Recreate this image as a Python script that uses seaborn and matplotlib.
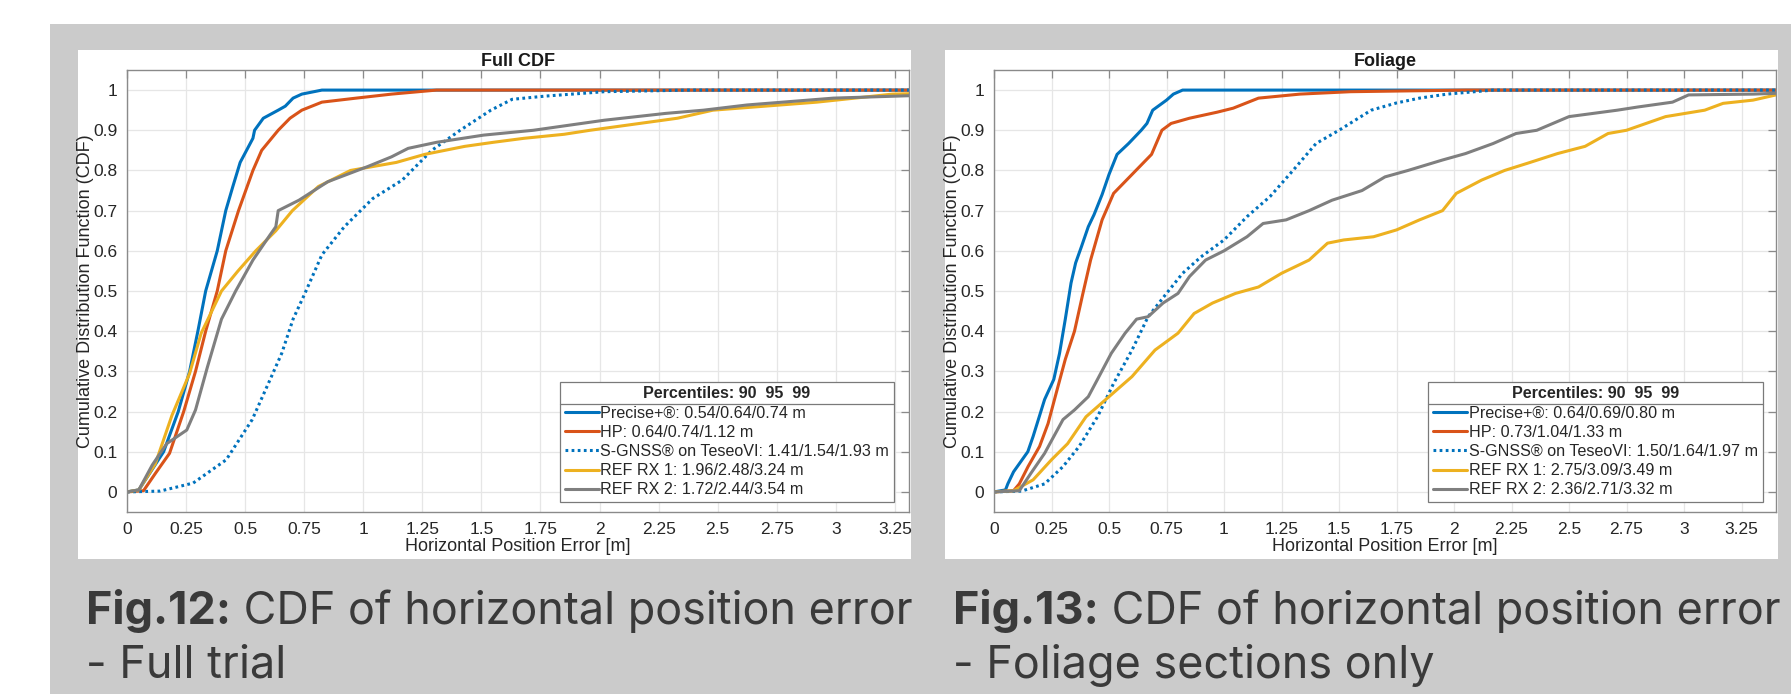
# CDF del error de posición horizontal: ensayo completo vs. tramos con follaje
import numpy as np
import matplotlib
matplotlib.use('Agg')
import matplotlib.pyplot as plt
import seaborn as sns
from matplotlib.patches import Rectangle
from matplotlib.lines import Line2D
from matplotlib.transforms import IdentityTransform

sns.set_style("whitegrid")
plt.rcParams['font.family'] = ['Liberation Sans', 'DejaVu Sans']

# ---------------- datos ----------------
# Panel izquierdo: Full CDF
full_precise_x = [0, 0.05, 0.10, 0.155, 0.217, 0.265, 0.30, 0.333, 0.382, 0.418, 0.448, 0.479, 0.533, 0.54, 0.577, 0.64, 0.67, 0.703, 0.74, 0.825, 3.31]
full_precise_y = [0, 0.005, 0.05, 0.10, 0.20, 0.30, 0.40, 0.50, 0.60, 0.70, 0.76, 0.82, 0.88, 0.90, 0.93, 0.95, 0.96, 0.98, 0.99, 1.0, 1.0]

full_hp_x = [0, 0.07, 0.12, 0.18, 0.24, 0.29, 0.333, 0.382, 0.418, 0.472, 0.533, 0.57, 0.64, 0.69, 0.74, 0.825, 0.97, 1.12, 1.31, 3.31]
full_hp_y = [0, 0.003, 0.046, 0.096, 0.20, 0.30, 0.40, 0.50, 0.60, 0.70, 0.80, 0.85, 0.90, 0.93, 0.95, 0.97, 0.98, 0.99, 1.0, 1.0]

full_sgnss_x = [0, 0.14, 0.28, 0.42, 0.53, 0.606, 0.655, 0.703, 0.75, 0.825, 0.92, 1.04, 1.165, 1.29, 1.41, 1.54, 1.63, 1.77, 2.02, 2.38, 3.31]
full_sgnss_y = [0, 0.002, 0.022, 0.08, 0.18, 0.28, 0.345, 0.43, 0.49, 0.59, 0.66, 0.73, 0.776, 0.85, 0.90, 0.95, 0.977, 0.985, 0.996, 1.0, 1.0]

full_rx1_x = [0, 0.05, 0.12, 0.19, 0.265, 0.314, 0.40, 0.47, 0.545, 0.63, 0.70, 0.81, 0.946, 1.14, 1.26, 1.43, 1.55, 1.68, 1.85, 1.96, 2.33, 2.48, 2.92, 3.24, 3.31]
full_rx1_y = [0, 0.005, 0.07, 0.19, 0.295, 0.395, 0.50, 0.55, 0.60, 0.65, 0.70, 0.76, 0.80, 0.82, 0.84, 0.86, 0.87, 0.88, 0.89, 0.90, 0.93, 0.95, 0.97, 0.99, 0.991]

full_rx2_x = [0, 0.05, 0.107, 0.168, 0.253, 0.29, 0.34, 0.40, 0.46, 0.533, 0.606, 0.63, 0.64, 0.728, 0.85, 1.02, 1.12, 1.19, 1.31, 1.51, 1.72, 2.02, 2.28, 2.44, 2.625, 2.99, 3.31]
full_rx2_y = [0, 0.005, 0.067, 0.12, 0.154, 0.204, 0.31, 0.43, 0.50, 0.577, 0.64, 0.66, 0.70, 0.726, 0.772, 0.81, 0.834, 0.855, 0.87, 0.888, 0.90, 0.925, 0.942, 0.95, 0.963, 0.98, 0.986]

# Panel derecho: Foliage
fol_precise_x = [0, 0.05, 0.06, 0.085, 0.147, 0.17, 0.22, 0.26, 0.285, 0.31, 0.335, 0.355, 0.38, 0.41, 0.435, 0.47, 0.50, 0.535, 0.585, 0.64, 0.665, 0.69, 0.75, 0.78, 0.82, 3.40]
fol_precise_y = [0, 0.005, 0.02, 0.05, 0.10, 0.138, 0.23, 0.28, 0.345, 0.43, 0.52, 0.57, 0.61, 0.66, 0.69, 0.74, 0.79, 0.84, 0.867, 0.90, 0.917, 0.95, 0.975, 0.99, 1.0, 1.0]

fol_hp_x = [0, 0.085, 0.11, 0.148, 0.198, 0.235, 0.27, 0.31, 0.35, 0.385, 0.42, 0.47, 0.52, 0.60, 0.685, 0.73, 0.77, 0.85, 0.97, 1.04, 1.15, 1.33, 1.55, 2.05, 3.40]
fol_hp_y = [0, 0.003, 0.02, 0.063, 0.113, 0.17, 0.245, 0.33, 0.40, 0.49, 0.577, 0.677, 0.743, 0.79, 0.84, 0.90, 0.917, 0.93, 0.945, 0.955, 0.98, 0.99, 0.996, 1.0, 1.0]

fol_sgnss_x = [0, 0.12, 0.22, 0.30, 0.37, 0.45, 0.52, 0.60, 0.67, 0.75, 0.82, 0.90, 1.0, 1.10, 1.20, 1.30, 1.40, 1.50, 1.64, 1.75, 1.85, 1.97, 2.17, 3.40]
fol_sgnss_y = [0, 0.002, 0.02, 0.063, 0.113, 0.187, 0.27, 0.353, 0.436, 0.494, 0.544, 0.585, 0.627, 0.685, 0.735, 0.80, 0.867, 0.90, 0.95, 0.968, 0.98, 0.99, 1.0, 1.0]

fol_rx1_x = [0, 0.085, 0.17, 0.25, 0.32, 0.40, 0.50, 0.60, 0.70, 0.80, 0.87, 0.95, 1.05, 1.15, 1.25, 1.37, 1.45, 1.52, 1.65, 1.75, 1.85, 1.95, 2.01, 2.12, 2.22, 2.32, 2.45, 2.57, 2.67, 2.75, 2.92, 3.09, 3.17, 3.30, 3.40]
fol_rx1_y = [0, 0.003, 0.03, 0.08, 0.12, 0.187, 0.237, 0.287, 0.353, 0.395, 0.444, 0.47, 0.494, 0.51, 0.544, 0.577, 0.619, 0.627, 0.635, 0.652, 0.677, 0.70, 0.743, 0.776, 0.80, 0.818, 0.842, 0.86, 0.892, 0.90, 0.934, 0.95, 0.967, 0.975, 0.988]

fol_rx2_x = [0, 0.11, 0.16, 0.22, 0.30, 0.35, 0.41, 0.45, 0.51, 0.57, 0.62, 0.67, 0.735, 0.80, 0.85, 0.92, 1.0, 1.10, 1.17, 1.27, 1.37, 1.47, 1.60, 1.70, 1.80, 1.95, 2.05, 2.17, 2.27, 2.36, 2.50, 2.71, 2.80, 2.95, 3.02, 3.30, 3.40]
fol_rx2_y = [0, 0.003, 0.046, 0.096, 0.18, 0.204, 0.237, 0.28, 0.345, 0.395, 0.43, 0.436, 0.47, 0.494, 0.536, 0.577, 0.60, 0.635, 0.668, 0.677, 0.70, 0.726, 0.75, 0.784, 0.80, 0.826, 0.842, 0.867, 0.892, 0.90, 0.934, 0.95, 0.958, 0.97, 0.988, 0.99, 0.992]

full_labels = ['Precise+®: 0.54/0.64/0.74 m', 'HP: 0.64/0.74/1.12 m',
               'S-GNSS® on TeseoVI: 1.41/1.54/1.93 m',
               'REF RX 1: 1.96/2.48/3.24 m', 'REF RX 2: 1.72/2.44/3.54 m']
fol_labels = ['Precise+®: 0.64/0.69/0.80 m', 'HP: 0.73/1.04/1.33 m',
              'S-GNSS® on TeseoVI: 1.50/1.64/1.97 m',
              'REF RX 1: 2.75/3.09/3.49 m', 'REF RX 2: 2.36/2.71/3.32 m']

x_ticks = [0, 0.25, 0.5, 0.75, 1, 1.25, 1.5, 1.75, 2, 2.25, 2.5, 2.75, 3, 3.25]
y_ticks = [0, 0.1, 0.2, 0.3, 0.4, 0.5, 0.6, 0.7, 0.8, 0.9, 1]

# colores por defecto de MATLAB
colores = ['#0072BD', '#D95319', '#0072BD', '#EDB120', '#7F7F7F']
estilos = ['-', '-', (0, (0.9, 1.1)), '-', '-']

LEG_FS = 11.6
LEG_SP = 0.26

# ---------------- figura ----------------
W, H = 1791, 694
fig = plt.figure(figsize=(W / 100, H / 100), dpi=100)
fig.patch.set_facecolor('white')
fig.add_artist(Rectangle((50 / W, 0), 1 - 50 / W, 1 - 24 / H, transform=fig.transFigure,
                         facecolor='#cbcbcb', edgecolor='none', zorder=-10))


def dibujar_panel(x0_px, eje_x0_px, xmax, titulo, series, etiquetas, leg_x1):
    # recuadro blanco del panel
    fig.add_artist(Rectangle((x0_px / W, (H - 559) / H), 833 / W, 509 / H,
                             transform=fig.transFigure, facecolor='white',
                             edgecolor='none', zorder=-5))
    ax = fig.add_axes([eje_x0_px / W, (H - 512) / H, 782 / W, 442 / H])
    for (xs, ys), c, ls, lab in zip(series, colores, estilos, etiquetas):
        sns.lineplot(x=xs, y=ys, ax=ax, color=c, linestyle=ls, linewidth=2.2,
                     label=lab, estimator=None, sort=False)
    ax.set_xlim(0, xmax)
    ax.set_ylim(-0.05, 1.05)
    ax.set_xticks(x_ticks)
    ax.set_yticks(y_ticks)
    ax.set_xticklabels([f'{v:g}' for v in x_ticks])
    ax.set_yticklabels([f'{v:g}' for v in y_ticks])
    ax.tick_params(direction='in', length=6, width=0.9, color='#8a8a8a',
                   labelsize=12.5, labelcolor='#262626', top=True, right=True,
                   pad=7)
    ax.grid(True, color='#e6e6e6', linewidth=0.9)
    for s in ax.spines.values():
        s.set_color('#8a8a8a')
        s.set_linewidth(1.0)
    ax.set_title(titulo, fontsize=13, fontweight='bold', color='#1a1a1a', pad=3)
    ax.set_xlabel('Horizontal Position Error [m]', fontsize=13, color='#262626', labelpad=1)
    ax.set_ylabel('Cumulative Distribution Function (CDF)', fontsize=13,
                  color='#262626', labelpad=-1)
    leg = ax.legend(title='Percentiles: 90  95  99', loc='lower right',
                    bbox_to_anchor=(leg_x1, 0.022), fontsize=LEG_FS,
                    title_fontproperties={'weight': 'bold', 'size': LEG_FS},
                    frameon=True, fancybox=False, framealpha=1,
                    edgecolor='#7a7a7a', handlelength=2.1, handletextpad=0.12,
                    labelspacing=LEG_SP, borderpad=0.3, borderaxespad=0)
    leg.get_frame().set_linewidth(0.9)
    return ax, leg


ax1, leg1 = dibujar_panel(78, 127, 3.31, 'Full CDF',
                          [(full_precise_x, full_precise_y), (full_hp_x, full_hp_y),
                           (full_sgnss_x, full_sgnss_y), (full_rx1_x, full_rx1_y),
                           (full_rx2_x, full_rx2_y)], full_labels, 0.981)
ax2, leg2 = dibujar_panel(945, 994, 3.40, 'Foliage',
                          [(fol_precise_x, fol_precise_y), (fol_hp_x, fol_hp_y),
                           (fol_sgnss_x, fol_sgnss_y), (fol_rx1_x, fol_rx1_y),
                           (fol_rx2_x, fol_rx2_y)], fol_labels, 0.983)

# pies de figura
cap_color = '#3a3a3a'
cap_font = ['Inter', 'DejaVu Sans']
cap_fs = 32.4
captions = [(86, 'Fig.12:', ' CDF of horizontal position error', '- Full trial'),
            (953, 'Fig.13:', ' CDF of horizontal position error', '- Foliage sections only')]
negritas = []
for x_px, bold, resto, linea2 in captions:
    t = fig.text(x_px / W, (H - 624) / H, bold, fontsize=cap_fs, fontweight='bold',
                 color=cap_color, family=cap_font, va='baseline')
    fig.text(x_px / W, (H - 678) / H, linea2, fontsize=cap_fs, color=cap_color,
             family=cap_font, va='baseline')
    negritas.append((t, resto))

fig.canvas.draw()
for t, resto in negritas:
    bb = t.get_window_extent()
    fig.text(bb.x1 / W, (H - 624) / H, resto, fontsize=cap_fs, color=cap_color,
             family=cap_font, va='baseline')

# línea separadora bajo el título de la leyenda
gap = LEG_SP * LEG_FS * 100 / 72
for leg in (leg1, leg2):
    fb = leg.get_frame().get_window_extent()
    tb = leg.get_title().get_window_extent()
    yl = tb.y0 - gap / 2
    fig.add_artist(Line2D([fb.x0, fb.x1], [yl, yl], transform=IdentityTransform(),
                          color='#7a7a7a', linewidth=0.9))

fig.savefig('out.png', dpi=100, facecolor=fig.get_facecolor())
